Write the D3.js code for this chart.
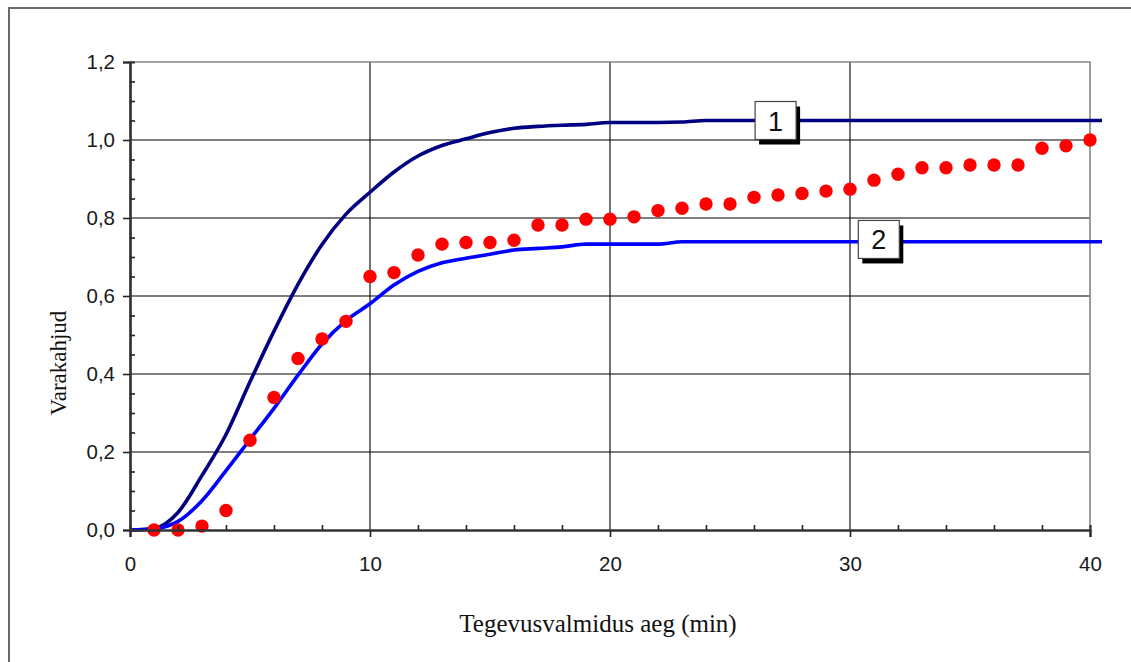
<!DOCTYPE html>
<html>
<head>
<meta charset="utf-8">
<script src="https://cdn.jsdelivr.net/npm/d3@7/dist/d3.min.js"></script>
<style>
  html, body { margin: 0; padding: 0; background: #fff; }
  svg { display: block; }
</style>
</head>
<body>
<svg id="chart" width="1131" height="662"></svg>
<script>
// Readiness time (min) for the two model curves
const lineTime = [0, 1, 2, 3, 4, 5, 6, 7, 8, 9, 10, 11, 12, 13, 14, 15, 16, 17, 18, 19, 20,
  21, 22, 23, 24, 25, 26, 27, 28, 29, 30, 31, 32, 33, 34, 35, 36, 37, 38, 39, 40, 40.5];

// Curve 1
const curve1 = [0, 0.004, 0.045, 0.14, 0.245, 0.38, 0.51, 0.63, 0.732, 0.81, 0.866,
  0.918, 0.959, 0.986, 1.003, 1.019, 1.03, 1.035, 1.038, 1.04, 1.045,
  1.045, 1.045, 1.046, 1.05, 1.05, 1.05, 1.05, 1.05, 1.05, 1.05,
  1.05, 1.05, 1.05, 1.05, 1.05, 1.05, 1.05, 1.05, 1.05, 1.05, 1.05];

// Curve 2
const curve2 = [0, 0.003, 0.022, 0.075, 0.152, 0.232, 0.312, 0.397, 0.477, 0.537, 0.58,
  0.628, 0.663, 0.685, 0.697, 0.707, 0.718, 0.722, 0.726, 0.733, 0.733,
  0.733, 0.733, 0.739, 0.739, 0.739, 0.739, 0.739, 0.739, 0.739, 0.739,
  0.739, 0.739, 0.739, 0.739, 0.739, 0.739, 0.739, 0.739, 0.739, 0.739, 0.739];

// Observed damage
const obsTime = [1, 2, 3, 4, 5, 6, 7, 8, 9, 10, 11, 12, 13, 14, 15, 16, 17, 18, 19, 20,
  21, 22, 23, 24, 25, 26, 27, 28, 29, 30, 31, 32, 33, 34, 35, 36, 37, 38, 39, 40];
const obsDamage = [0, 0, 0.01, 0.05, 0.23, 0.34, 0.44, 0.49, 0.535, 0.65,
  0.66, 0.705, 0.733, 0.737, 0.737, 0.743, 0.782, 0.782, 0.797, 0.797,
  0.803, 0.819, 0.825, 0.836, 0.836, 0.853, 0.859, 0.863, 0.869, 0.874,
  0.897, 0.912, 0.929, 0.929, 0.936, 0.936, 0.936, 0.979, 0.985, 1.0];

// Axis ticks
const xTicks = [0, 10, 20, 30, 40];
const xMinorTicks = [2, 4, 6, 8, 12, 14, 16, 18, 22, 24, 26, 28, 32, 34, 36, 38];
const yTicks = [0, 0.2, 0.4, 0.6, 0.8, 1.0, 1.2];
const yMinorTicks = [0.05, 0.1, 0.15, 0.25, 0.3, 0.35, 0.45, 0.5, 0.55, 0.65, 0.7, 0.75,
  0.85, 0.9, 0.95, 1.05, 1.1, 1.15];

// Curve tags: name and anchor in data units
const tagNames = ["1", "2"];
const tagTime = [26.9, 31.2];
const tagValue = [1.05, 0.745];

const svg = d3.select("#chart");
const x = d3.scaleLinear().domain([0, 40]).range([130, 1090]);
const y = d3.scaleLinear().domain([0, 1.2]).range([530, 62]);
const comma = v => d3.format(".1f")(v).replace(".", ",");

// outer frame
svg.append("rect")
  .attr("x", 9).attr("y", 8).attr("width", 1140).attr("height", 680)
  .attr("fill", "none").attr("stroke", "#6a6a6a").attr("stroke-width", 2);

// grid
const grid = svg.append("g");
grid.selectAll("line.h").data(yTicks.filter(v => v > 0 && v < 1.2)).join("line")
  .attr("x1", x(0)).attr("x2", x(40))
  .attr("y1", d => y(d)).attr("y2", d => y(d))
  .attr("stroke", "#000").attr("stroke-width", 1.1);
grid.selectAll("line.v").data(xTicks.filter(v => v > 0 && v < 40)).join("line")
  .attr("y1", y(0)).attr("y2", y(1.2))
  .attr("x1", d => x(d)).attr("x2", d => x(d))
  .attr("stroke", "#000").attr("stroke-width", 1.1);
// plot top and right edges
grid.append("path")
  .attr("d", `M${x(0)},${y(1.2)}H${x(40)}V${y(0)}`)
  .attr("fill", "none").attr("stroke", "#858585").attr("stroke-width", 1.6);

// model curves
const lineGen = vals => d3.line()
  .curve(d3.curveMonotoneX)
  .x((d, i) => x(lineTime[i]))
  .y(d => y(d))(vals);

svg.append("path").attr("d", lineGen(curve1))
  .attr("fill", "none").attr("stroke", "#000080").attr("stroke-width", 3.6)
  .attr("stroke-linejoin", "round");
svg.append("path").attr("d", lineGen(curve2))
  .attr("fill", "none").attr("stroke", "#0000ff").attr("stroke-width", 3.6)
  .attr("stroke-linejoin", "round");

// observations
svg.append("g").selectAll("circle").data(obsDamage).join("circle")
  .attr("cx", (d, i) => x(obsTime[i]))
  .attr("cy", d => y(d))
  .attr("r", 6.7)
  .attr("fill", "#ff0000");

// axes
const tickFont = "'Liberation Sans', Arial, sans-serif";
const yAxis = svg.append("g").attr("transform", `translate(${x(0)},0)`)
  .call(d3.axisLeft(y).tickValues(yTicks).tickFormat(comma).tickSize(7).tickPadding(8));
const yMinor = svg.append("g").attr("transform", `translate(${x(0)},0)`)
  .call(d3.axisLeft(y).tickValues(yMinorTicks).tickFormat("").tickSize(-5));
const xAxis = svg.append("g").attr("transform", `translate(0,${y(0)})`)
  .call(d3.axisBottom(x).tickValues(xTicks).tickFormat(d3.format("d")).tickSize(7).tickPadding(19));
const xMinor = svg.append("g").attr("transform", `translate(0,${y(0)})`)
  .call(d3.axisBottom(x).tickValues(xMinorTicks).tickFormat("").tickSize(-5));

[yAxis, yMinor, xAxis, xMinor].forEach(g => {
  g.select(".domain").attr("stroke", "#333").attr("stroke-width", 2.2);
  g.selectAll(".tick line").attr("stroke", "#222").attr("stroke-width", 1.6);
  g.selectAll(".tick text")
    .attr("font-family", tickFont).attr("font-size", 20.5).attr("fill", "#1a1a1a");
});
xAxis.selectAll(".tick text").attr("dy", "0.71em");

// axis titles
svg.append("text")
  .attr("x", 598).attr("y", 632)
  .attr("text-anchor", "middle")
  .attr("font-family", "'Liberation Serif', 'Times New Roman', serif")
  .attr("font-size", 25).attr("fill", "#111")
  .text("Tegevusvalmidus aeg (min)");
svg.append("text")
  .attr("transform", "translate(66,363) rotate(-90)")
  .attr("text-anchor", "middle")
  .attr("font-family", "'Liberation Serif', 'Times New Roman', serif")
  .attr("font-size", 23).attr("fill", "#111")
  .text("Varakahjud");

// curve tags
const bw = 41, bh = 38;
const tags = svg.append("g").selectAll("g").data(tagNames).join("g")
  .attr("transform", (d, i) => `translate(${x(tagTime[i]) - bw / 2},${y(tagValue[i]) - bh / 2})`);
tags.append("rect").attr("x", 4).attr("y", 5).attr("width", bw).attr("height", bh)
  .attr("fill", "#000");
tags.append("rect").attr("width", bw).attr("height", bh)
  .attr("fill", "#fff").attr("stroke", "#444").attr("stroke-width", 1.2);
tags.append("text")
  .attr("x", bw / 2).attr("y", bh / 2 + 10)
  .attr("text-anchor", "middle")
  .attr("font-family", tickFont).attr("font-size", 27).attr("fill", "#111")
  .text(d => d);
</script>
</body>
</html>
